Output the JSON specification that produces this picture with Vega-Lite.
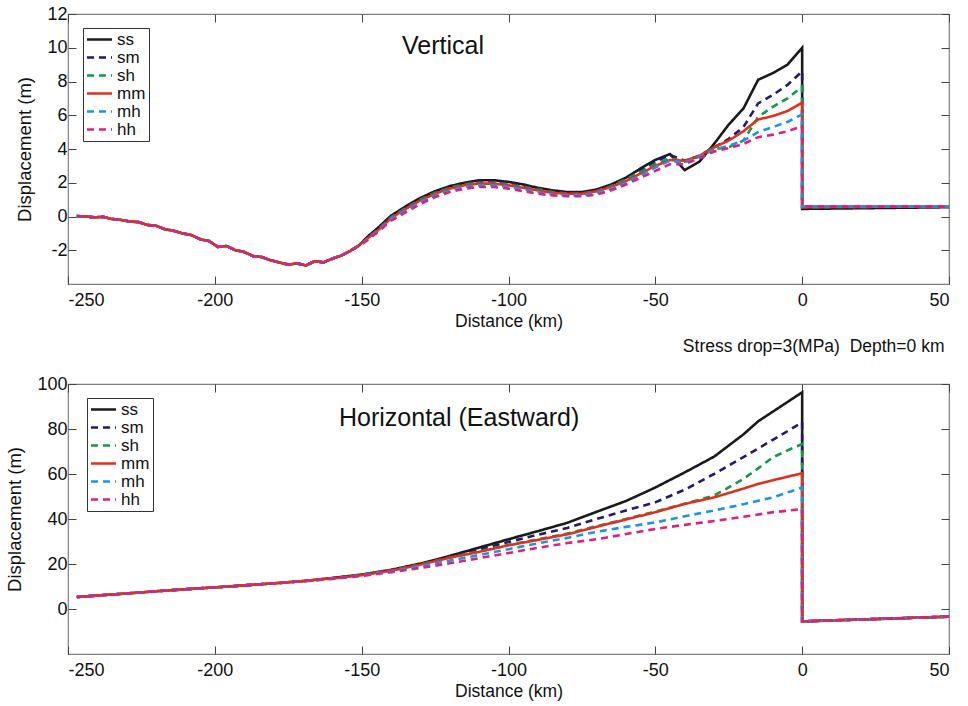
{
  "$schema": "https://vega.github.io/schema/vega-lite/v6.json",
  "background": "white",
  "padding": {"left": 5, "top": 4, "right": 10, "bottom": 5},
  "spacing": 5,
  "config": {
    "font": "Liberation Sans",
    "view": {"stroke": "#808080", "strokeWidth": 1.2},
    "axis": {"grid": false, "domain": false, "labelFont": "Liberation Sans", "titleFont": "Liberation Sans", "labelFontSize": 18, "titleFontSize": 17.5, "titleFontWeight": "normal", "labelColor": "#111", "titleColor": "#111", "tickColor": "#444", "tickSize": -8, "tickWidth": 1, "labelExpr": "datum.value < 0 ? '-' + abs(datum.value) : datum.label"},
    "axisX": {"labelPadding": 15, "titlePadding": 3},
    "axisY": {"labelPadding": 9, "titlePadding": 12, "titleFontSize": 18.5},
    "legend": {"strokeColor": "#333", "fillColor": "white", "padding": 3, "symbolType": "M-2.5,0H2.5", "symbolSize": 100, "symbolStrokeWidth": 2.6, "symbolOffset": 5, "labelFontSize": 17, "labelFont": "Liberation Sans", "labelColor": "#111", "rowPadding": 0, "labelOffset": 9, "title": null}
  },
  "datasets": {
    "vert": [
      {"i":0,"x":-247,"ss":0.02,"sm":0.02,"sh":0.02,"mm":0.02,"mh":0.02,"hh":0.02},
      {"i":1,"x":-244,"ss":0.0,"sm":0.0,"sh":0.0,"mm":0.0,"mh":0.0,"hh":0.0},
      {"i":2,"x":-241,"ss":-0.05,"sm":-0.05,"sh":-0.05,"mm":-0.05,"mh":-0.05,"hh":-0.05},
      {"i":3,"x":-238,"ss":-0.02,"sm":-0.02,"sh":-0.02,"mm":-0.02,"mh":-0.02,"hh":-0.02},
      {"i":4,"x":-235,"ss":-0.15,"sm":-0.15,"sh":-0.15,"mm":-0.15,"mh":-0.15,"hh":-0.15},
      {"i":5,"x":-232,"ss":-0.2,"sm":-0.2,"sh":-0.2,"mm":-0.2,"mh":-0.2,"hh":-0.2},
      {"i":6,"x":-229,"ss":-0.3,"sm":-0.3,"sh":-0.3,"mm":-0.3,"mh":-0.3,"hh":-0.3},
      {"i":7,"x":-226,"ss":-0.33,"sm":-0.33,"sh":-0.33,"mm":-0.33,"mh":-0.33,"hh":-0.33},
      {"i":8,"x":-223,"ss":-0.5,"sm":-0.5,"sh":-0.5,"mm":-0.5,"mh":-0.5,"hh":-0.5},
      {"i":9,"x":-220,"ss":-0.55,"sm":-0.55,"sh":-0.55,"mm":-0.55,"mh":-0.55,"hh":-0.55},
      {"i":10,"x":-217,"ss":-0.75,"sm":-0.75,"sh":-0.75,"mm":-0.75,"mh":-0.75,"hh":-0.75},
      {"i":11,"x":-214,"ss":-0.85,"sm":-0.85,"sh":-0.85,"mm":-0.85,"mh":-0.85,"hh":-0.85},
      {"i":12,"x":-211,"ss":-1.0,"sm":-1.0,"sh":-1.0,"mm":-1.0,"mh":-1.0,"hh":-1.0},
      {"i":13,"x":-208,"ss":-1.1,"sm":-1.1,"sh":-1.1,"mm":-1.1,"mh":-1.1,"hh":-1.1},
      {"i":14,"x":-205,"ss":-1.35,"sm":-1.35,"sh":-1.35,"mm":-1.35,"mh":-1.35,"hh":-1.35},
      {"i":15,"x":-202,"ss":-1.45,"sm":-1.45,"sh":-1.45,"mm":-1.45,"mh":-1.45,"hh":-1.45},
      {"i":16,"x":-199,"ss":-1.8,"sm":-1.8,"sh":-1.8,"mm":-1.8,"mh":-1.8,"hh":-1.8},
      {"i":17,"x":-196,"ss":-1.75,"sm":-1.75,"sh":-1.75,"mm":-1.75,"mh":-1.75,"hh":-1.75},
      {"i":18,"x":-193,"ss":-2.0,"sm":-2.0,"sh":-2.0,"mm":-2.0,"mh":-2.0,"hh":-2.0},
      {"i":19,"x":-190,"ss":-2.1,"sm":-2.1,"sh":-2.1,"mm":-2.1,"mh":-2.1,"hh":-2.1},
      {"i":20,"x":-187,"ss":-2.35,"sm":-2.35,"sh":-2.35,"mm":-2.35,"mh":-2.35,"hh":-2.35},
      {"i":21,"x":-184,"ss":-2.4,"sm":-2.4,"sh":-2.4,"mm":-2.4,"mh":-2.4,"hh":-2.4},
      {"i":22,"x":-181,"ss":-2.6,"sm":-2.6,"sh":-2.6,"mm":-2.6,"mh":-2.6,"hh":-2.6},
      {"i":23,"x":-178,"ss":-2.72,"sm":-2.72,"sh":-2.72,"mm":-2.72,"mh":-2.72,"hh":-2.72},
      {"i":24,"x":-175,"ss":-2.85,"sm":-2.85,"sh":-2.85,"mm":-2.85,"mh":-2.85,"hh":-2.85},
      {"i":25,"x":-172,"ss":-2.78,"sm":-2.78,"sh":-2.78,"mm":-2.78,"mh":-2.78,"hh":-2.78},
      {"i":26,"x":-169,"ss":-2.9,"sm":-2.9,"sh":-2.9,"mm":-2.9,"mh":-2.9,"hh":-2.9},
      {"i":27,"x":-166,"ss":-2.65,"sm":-2.65,"sh":-2.65,"mm":-2.65,"mh":-2.65,"hh":-2.65},
      {"i":28,"x":-163,"ss":-2.72,"sm":-2.72,"sh":-2.72,"mm":-2.72,"mh":-2.72,"hh":-2.72},
      {"i":29,"x":-160,"ss":-2.5,"sm":-2.5,"sh":-2.5,"mm":-2.5,"mh":-2.5,"hh":-2.5},
      {"i":30,"x":-157,"ss":-2.32,"sm":-2.32,"sh":-2.32,"mm":-2.32,"mh":-2.32,"hh":-2.32},
      {"i":31,"x":-154,"ss":-2.05,"sm":-2.05,"sh":-2.05,"mm":-2.05,"mh":-2.05,"hh":-2.05},
      {"i":32,"x":-151,"ss":-1.72,"sm":-1.72,"sh":-1.72,"mm":-1.72,"mh":-1.74,"hh":-1.76},
      {"i":33,"x":-148,"ss":-1.2,"sm":-1.25,"sh":-1.3,"mm":-1.3,"mh":-1.35,"hh":-1.4},
      {"i":34,"x":-144,"ss":-0.6,"sm":-0.65,"sh":-0.7,"mm":-0.75,"mh":-0.8,"hh":-0.85},
      {"i":35,"x":-140,"ss":0.05,"sm":0.0,"sh":-0.05,"mm":-0.1,"mh":-0.15,"hh":-0.25},
      {"i":36,"x":-135,"ss":0.6,"sm":0.55,"sh":0.5,"mm":0.45,"mh":0.35,"hh":0.25},
      {"i":37,"x":-130,"ss":1.1,"sm":1.05,"sh":1.0,"mm":0.95,"mh":0.85,"hh":0.75},
      {"i":38,"x":-125,"ss":1.5,"sm":1.45,"sh":1.4,"mm":1.35,"mh":1.25,"hh":1.15},
      {"i":39,"x":-120,"ss":1.8,"sm":1.75,"sh":1.7,"mm":1.65,"mh":1.55,"hh":1.45},
      {"i":40,"x":-115,"ss":2.0,"sm":1.95,"sh":1.9,"mm":1.85,"mh":1.75,"hh":1.65},
      {"i":41,"x":-110,"ss":2.15,"sm":2.1,"sh":2.0,"mm":1.95,"mh":1.85,"hh":1.75},
      {"i":42,"x":-105,"ss":2.15,"sm":2.1,"sh":2.0,"mm":1.95,"mh":1.85,"hh":1.75},
      {"i":43,"x":-100,"ss":2.05,"sm":2.0,"sh":1.9,"mm":1.85,"mh":1.75,"hh":1.65},
      {"i":44,"x":-95,"ss":1.9,"sm":1.85,"sh":1.75,"mm":1.7,"mh":1.6,"hh":1.5},
      {"i":45,"x":-90,"ss":1.7,"sm":1.65,"sh":1.6,"mm":1.55,"mh":1.45,"hh":1.35},
      {"i":46,"x":-85,"ss":1.55,"sm":1.5,"sh":1.45,"mm":1.4,"mh":1.3,"hh":1.25},
      {"i":47,"x":-80,"ss":1.45,"sm":1.4,"sh":1.35,"mm":1.35,"mh":1.25,"hh":1.2},
      {"i":48,"x":-75,"ss":1.45,"sm":1.4,"sh":1.35,"mm":1.35,"mh":1.25,"hh":1.2},
      {"i":49,"x":-70,"ss":1.6,"sm":1.55,"sh":1.5,"mm":1.5,"mh":1.4,"hh":1.3},
      {"i":50,"x":-65,"ss":1.9,"sm":1.85,"sh":1.8,"mm":1.75,"mh":1.65,"hh":1.55},
      {"i":51,"x":-60,"ss":2.3,"sm":2.25,"sh":2.2,"mm":2.1,"mh":2.0,"hh":1.9},
      {"i":52,"x":-55,"ss":2.85,"sm":2.75,"sh":2.65,"mm":2.55,"mh":2.45,"hh":2.3},
      {"i":53,"x":-50,"ss":3.35,"sm":3.25,"sh":3.1,"mm":3.0,"mh":2.9,"hh":2.7},
      {"i":54,"x":-45,"ss":3.7,"sm":3.65,"sh":3.45,"mm":3.35,"mh":3.3,"hh":3.1},
      {"i":55,"x":-40,"ss":2.75,"sm":3.3,"sh":3.25,"mm":3.3,"mh":3.2,"hh":3.1},
      {"i":56,"x":-35,"ss":3.25,"sm":3.6,"sh":3.55,"mm":3.6,"mh":3.55,"hh":3.45},
      {"i":57,"x":-30,"ss":4.3,"sm":4.1,"sh":4.0,"mm":4.1,"mh":3.95,"hh":3.85},
      {"i":58,"x":-25,"ss":5.45,"sm":4.6,"sh":4.1,"mm":4.5,"mh":4.2,"hh":4.05},
      {"i":59,"x":-20,"ss":6.4,"sm":5.3,"sh":4.5,"mm":5.05,"mh":4.5,"hh":4.3},
      {"i":60,"x":-15,"ss":8.1,"sm":6.7,"sh":5.9,"mm":5.75,"mh":5.0,"hh":4.7},
      {"i":61,"x":-10,"ss":8.5,"sm":7.2,"sh":6.5,"mm":5.95,"mh":5.3,"hh":4.85},
      {"i":62,"x":-5,"ss":9.0,"sm":7.8,"sh":7.0,"mm":6.25,"mh":5.6,"hh":5.05},
      {"i":63,"x":0,"ss":10.0,"sm":8.6,"sh":7.7,"mm":6.75,"mh":6.05,"hh":5.35},
      {"i":64,"x":0,"ss":0.45,"sm":0.55,"sh":0.55,"mm":0.55,"mh":0.6,"hh":0.6},
      {"i":65,"x":50,"ss":0.55,"sm":0.6,"sh":0.6,"mm":0.6,"mh":0.6,"hh":0.6}
    ],
    "horiz": [
      {"i":0,"x":-247,"ss":5.3,"sm":5.3,"sh":5.3,"mm":5.3,"mh":5.3,"hh":5.3},
      {"i":1,"x":-240,"ss":6.0,"sm":6.0,"sh":6.0,"mm":6.0,"mh":6.0,"hh":6.0},
      {"i":2,"x":-230,"ss":6.9,"sm":6.9,"sh":6.9,"mm":6.9,"mh":6.9,"hh":6.9},
      {"i":3,"x":-220,"ss":7.9,"sm":7.9,"sh":7.9,"mm":7.9,"mh":7.9,"hh":7.9},
      {"i":4,"x":-210,"ss":8.8,"sm":8.8,"sh":8.8,"mm":8.8,"mh":8.8,"hh":8.8},
      {"i":5,"x":-200,"ss":9.6,"sm":9.6,"sh":9.6,"mm":9.6,"mh":9.6,"hh":9.6},
      {"i":6,"x":-190,"ss":10.5,"sm":10.5,"sh":10.5,"mm":10.5,"mh":10.5,"hh":10.5},
      {"i":7,"x":-180,"ss":11.4,"sm":11.4,"sh":11.4,"mm":11.4,"mh":11.4,"hh":11.4},
      {"i":8,"x":-170,"ss":12.4,"sm":12.4,"sh":12.4,"mm":12.4,"mh":12.3,"hh":12.3},
      {"i":9,"x":-160,"ss":13.8,"sm":13.7,"sh":13.6,"mm":13.6,"mh":13.5,"hh":13.4},
      {"i":10,"x":-150,"ss":15.3,"sm":15.2,"sh":15.1,"mm":15.0,"mh":14.9,"hh":14.7},
      {"i":11,"x":-140,"ss":17.4,"sm":17.3,"sh":17.1,"mm":17.0,"mh":16.7,"hh":16.4},
      {"i":12,"x":-130,"ss":20.2,"sm":19.9,"sh":19.8,"mm":19.7,"mh":19.0,"hh":18.2},
      {"i":13,"x":-120,"ss":23.6,"sm":23.2,"sh":22.9,"mm":22.8,"mh":21.5,"hh":20.3},
      {"i":14,"x":-110,"ss":27.3,"sm":26.5,"sh":25.6,"mm":25.4,"mh":24.0,"hh":22.6},
      {"i":15,"x":-100,"ss":31.0,"sm":29.8,"sh":28.5,"mm":28.3,"mh":26.6,"hh":24.9},
      {"i":16,"x":-90,"ss":34.6,"sm":33.0,"sh":31.0,"mm":30.7,"mh":29.2,"hh":27.2},
      {"i":17,"x":-80,"ss":38.3,"sm":36.0,"sh":33.5,"mm":33.2,"mh":31.6,"hh":29.3},
      {"i":18,"x":-70,"ss":43.2,"sm":40.0,"sh":36.8,"mm":36.5,"mh":34.3,"hh":31.0},
      {"i":19,"x":-60,"ss":48.0,"sm":43.8,"sh":40.0,"mm":39.8,"mh":36.5,"hh":33.3},
      {"i":20,"x":-50,"ss":54.0,"sm":47.4,"sh":43.3,"mm":43.0,"mh":38.5,"hh":35.6},
      {"i":21,"x":-40,"ss":60.7,"sm":53.0,"sh":46.8,"mm":46.7,"mh":41.2,"hh":37.4},
      {"i":22,"x":-30,"ss":67.7,"sm":60.0,"sh":50.4,"mm":49.6,"mh":43.8,"hh":39.1},
      {"i":23,"x":-20,"ss":77.6,"sm":67.5,"sh":57.8,"mm":53.5,"mh":46.6,"hh":41.0},
      {"i":24,"x":-15,"ss":83.4,"sm":71.3,"sh":62.5,"mm":55.6,"mh":48.1,"hh":42.0},
      {"i":25,"x":-10,"ss":87.7,"sm":75.2,"sh":67.4,"mm":57.2,"mh":49.6,"hh":43.0},
      {"i":26,"x":-5,"ss":92.0,"sm":79.0,"sh":70.5,"mm":58.8,"mh":51.8,"hh":43.7},
      {"i":27,"x":0,"ss":96.3,"sm":83.0,"sh":73.3,"mm":60.3,"mh":54.0,"hh":44.4},
      {"i":28,"x":0,"ss":-5.5,"sm":-5.5,"sh":-5.5,"mm":-5.5,"mh":-5.5,"hh":-5.5},
      {"i":29,"x":50,"ss":-3.4,"sm":-3.4,"sh":-3.4,"mm":-3.4,"mh":-3.4,"hh":-3.4}
    ],
    "vlab": [{"x": -122.3, "y": 10.1, "t": "Vertical"}],
    "hlab": [{"x": -116.8, "y": 84.9, "t": "Horizontal (Eastward)"}]
  },
  "resolve": {"legend": {"color": "independent", "strokeDash": "independent"}},
  "vconcat": [
    {
      "width": 881,
      "height": 270,
      "resolve": {"axis": {"x": "independent", "y": "independent"}},
      "layer": [
        {
          "data": {"name": "vert"},
          "transform": [{"fold": ["ss", "sm", "sh", "mm", "mh", "hh"], "as": ["case", "d"]}],
          "mark": {"type": "line", "strokeWidth": 2.6, "clip": true},
          "encoding": {
            "x": {"field": "x", "type": "quantitative", "scale": {"domain": [-250, 50], "nice": false, "zero": false}, "axis": {"orient": "bottom", "values": [-250, -200, -150, -100, -50, 0, 50], "title": "Distance (km)"}},
            "y": {"field": "d", "type": "quantitative", "scale": {"domain": [-4, 12], "nice": false, "zero": false}, "axis": {"orient": "left", "values": [-2, 0, 2, 4, 6, 8, 10, 12], "title": "Displacement (m)"}},
            "color": {"field": "case", "type": "nominal", "scale": {"domain": ["ss", "sm", "sh", "mm", "mh", "hh"], "range": ["#1a1a1a", "#241a6b", "#15994a", "#e0301e", "#1b96e0", "#e0207e"]}, "legend": {"orient": "none", "legendX": 15, "legendY": 14}},
            "strokeDash": {"field": "case", "type": "nominal", "scale": {"domain": ["ss", "sm", "sh", "mm", "mh", "hh"], "range": [[1, 0], [7, 5], [7, 5], [1, 0], [7, 5], [7, 5]]}, "legend": {"orient": "none", "legendX": 15, "legendY": 14}},
            "order": {"field": "i", "type": "quantitative"}
          }
        },
        {
          "data": {"name": "vlab"},
          "mark": {"type": "text", "fontSize": 25, "align": "center", "baseline": "middle", "color": "#111"},
          "encoding": {
            "x": {"field": "x", "type": "quantitative", "axis": {"orient": "top", "labels": false, "title": null, "values": [-250, -200, -150, -100, -50, 0, 50]}},
            "y": {"field": "y", "type": "quantitative", "axis": {"orient": "right", "labels": false, "title": null, "values": [-2, 0, 2, 4, 6, 8, 10, 12]}},
            "text": {"field": "t"}
          }
        }
      ]
    },
    {
      "width": 881,
      "height": 270,
      "resolve": {"axis": {"x": "independent", "y": "independent"}},
      "title": {"text": "Stress drop=3(MPa)\u00a0\u00a0Depth=0 km", "anchor": "end", "orient": "top", "fontSize": 17.5, "fontWeight": "normal", "font": "Liberation Sans", "color": "#111", "offset": 20, "dx": -5},
      "layer": [
        {
          "data": {"name": "horiz"},
          "transform": [{"fold": ["ss", "sm", "sh", "mm", "mh", "hh"], "as": ["case", "d"]}],
          "mark": {"type": "line", "strokeWidth": 2.6, "clip": true},
          "encoding": {
            "x": {"field": "x", "type": "quantitative", "scale": {"domain": [-250, 50], "nice": false, "zero": false}, "axis": {"orient": "bottom", "values": [-250, -200, -150, -100, -50, 0, 50], "title": "Distance (km)"}},
            "y": {"field": "d", "type": "quantitative", "scale": {"domain": [-20, 100], "nice": false, "zero": false}, "axis": {"orient": "left", "values": [0, 20, 40, 60, 80, 100], "title": "Displacement (m)"}},
            "color": {"field": "case", "type": "nominal", "scale": {"domain": ["ss", "sm", "sh", "mm", "mh", "hh"], "range": ["#1a1a1a", "#241a6b", "#15994a", "#e0301e", "#1b96e0", "#e0207e"]}, "legend": {"orient": "none", "legendX": 19, "legendY": 14}},
            "strokeDash": {"field": "case", "type": "nominal", "scale": {"domain": ["ss", "sm", "sh", "mm", "mh", "hh"], "range": [[1, 0], [7, 5], [7, 5], [1, 0], [7, 5], [7, 5]]}, "legend": {"orient": "none", "legendX": 19, "legendY": 14}},
            "order": {"field": "i", "type": "quantitative"}
          }
        },
        {
          "data": {"name": "hlab"},
          "mark": {"type": "text", "fontSize": 25, "align": "center", "baseline": "middle", "color": "#111"},
          "encoding": {
            "x": {"field": "x", "type": "quantitative", "axis": {"orient": "top", "labels": false, "title": null, "values": [-250, -200, -150, -100, -50, 0, 50]}},
            "y": {"field": "y", "type": "quantitative", "axis": {"orient": "right", "labels": false, "title": null, "values": [0, 20, 40, 60, 80, 100]}},
            "text": {"field": "t"}
          }
        }
      ]
    }
  ]
}
